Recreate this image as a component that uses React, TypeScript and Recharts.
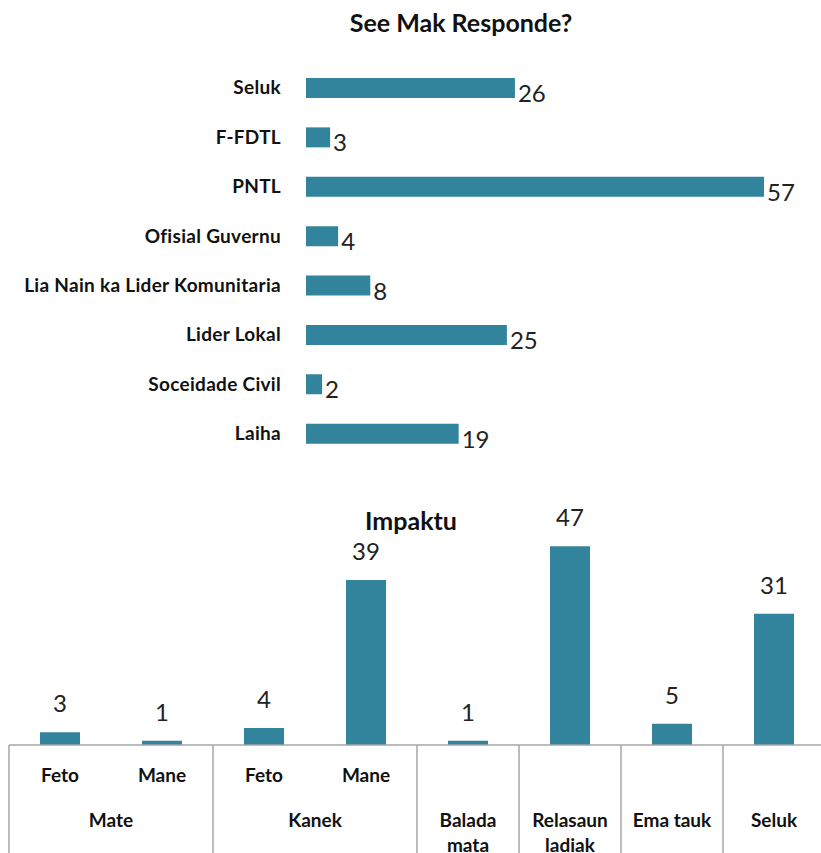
import React from "react";
import { BarChart, Bar, XAxis, YAxis, LabelList } from "recharts";

// --- data: "See Mak Responde?" ---
const respondeCategories = [
  "Seluk",
  "F-FDTL",
  "PNTL",
  "Ofisial Guvernu",
  "Lia Nain ka Lider Komunitaria",
  "Lider Lokal",
  "Soceidade Civil",
  "Laiha",
];
const respondeValues = [26, 3, 57, 4, 8, 25, 2, 19];

// --- data: "Impaktu" ---
const impaktuGroups = ["Mate", "Mate", "Kanek", "Kanek", "Balada mata", "Relasaun ladiak", "Ema tauk", "Seluk"];
const impaktuSubs = ["Feto", "Mane", "Feto", "Mane", "", "", "", ""];
const impaktuValues = [3, 1, 4, 39, 1, 47, 5, 31];

const BAR = "#31849B";
const FONT = "Lato, 'Open Sans', sans-serif";
const GRID = "#a6a6a6";
const BAND = 102;

const respondeData = respondeCategories.map((name, i) => ({ name, value: respondeValues[i] }));
const impaktuData = impaktuValues.map((value, i) => ({ key: String(i), value }));

const groupStyle = { fontSize: 19, fontWeight: "bold" as const, fontFamily: FONT };

function RightValue(props: any) {
  const { x, y, width, height, value } = props;
  return (
    <text x={x + width + 3} y={y + height / 2 + 14} fontSize={24} fontFamily={FONT} fill="#222">
      {value}
    </text>
  );
}

function TopValue(props: any) {
  const { x, y, width, value } = props;
  return (
    <text x={x + width / 2} y={y - 20} textAnchor="middle" fontSize={24} fontFamily={FONT} fill="#222">
      {value}
    </text>
  );
}

// wrap long labels that only get one band (Excel wraps these to cell width)
function wrapLabel(label: string, span: number) {
  if (span > 1 || label.length <= 9) return [label];
  return label.split(" ");
}

function GroupTick(props: any) {
  const { x, y, payload } = props;
  const i = payload.index;
  const group = impaktuGroups[i];
  const sub = impaktuSubs[i];
  const first = i === 0 || impaktuGroups[i - 1] !== group;
  let span = 0;
  if (first) {
    while (impaktuGroups[i + span] === group) span++;
  }
  const left = x - BAND / 2;
  const lines = first ? wrapLabel(group, span) : [];
  return (
    <g>
      {first && <line x1={left} x2={left} y1={y} y2={y + 110} stroke={GRID} strokeWidth={1.5} />}
      {sub && (
        <text x={x} y={y + 37} textAnchor="middle" style={groupStyle} fill="#111">
          {sub}
        </text>
      )}
      {lines.map((ln, k) => (
        <text key={k} x={left + (span * BAND) / 2} y={y + 82 + k * 25} textAnchor="middle" style={groupStyle} fill="#111">
          {ln}
        </text>
      ))}
    </g>
  );
}

export default function App() {
  return (
    <div style={{ position: "absolute", left: 0, top: 0, width: 821, height: 853, overflow: "hidden", background: "#fff" }}>
      <div
        style={{
          position: "absolute",
          left: 0,
          width: 922,
          top: 7,
          textAlign: "center",
          fontFamily: FONT,
          fontWeight: "bold",
          fontSize: 25,
          color: "#111",
        }}
      >
        See Mak Responde?
      </div>
      <div style={{ position: "absolute", left: 0, top: 0 }}>
        <BarChart
          width={821}
          height={470}
          layout="vertical"
          data={respondeData}
          margin={{ top: 63, right: 57, bottom: 12, left: 0 }}
        >
          <XAxis type="number" domain={[0, 57]} hide />
          <YAxis
            type="category"
            dataKey="name"
            width={306}
            tickLine={false}
            axisLine={false}
            tickSize={0}
            tickMargin={25}
            interval={0}
            tick={{ fontSize: 19, fontWeight: "bold", fill: "#111", fontFamily: FONT, letterSpacing: 0.3 }}
          />
          <Bar dataKey="value" fill={BAR} barSize={20} isAnimationActive={false}>
            <LabelList dataKey="value" content={RightValue} />
          </Bar>
        </BarChart>
      </div>

      <div
        style={{
          position: "absolute",
          left: 0,
          width: 822,
          top: 505,
          textAlign: "center",
          fontFamily: FONT,
          fontWeight: "bold",
          fontSize: 25,
          color: "#111",
        }}
      >
        Impaktu
      </div>
      <div style={{ position: "absolute", left: 0, top: 480 }}>
        <BarChart
          width={834}
          height={373}
          data={impaktuData}
          margin={{ top: 53.5, right: 9, bottom: 0, left: 9 }}
        >
          <XAxis
            dataKey="key"
            height={108}
            interval={0}
            tickLine={false}
            tickSize={0}
            tickMargin={0}
            axisLine={{ stroke: GRID, strokeWidth: 1.5 }}
            tick={<GroupTick />}
          />
          <YAxis hide domain={[0, 50]} />
          <Bar dataKey="value" fill={BAR} barSize={40} isAnimationActive={false}>
            <LabelList dataKey="value" content={TopValue} />
          </Bar>
        </BarChart>
      </div>
    </div>
  );
}
